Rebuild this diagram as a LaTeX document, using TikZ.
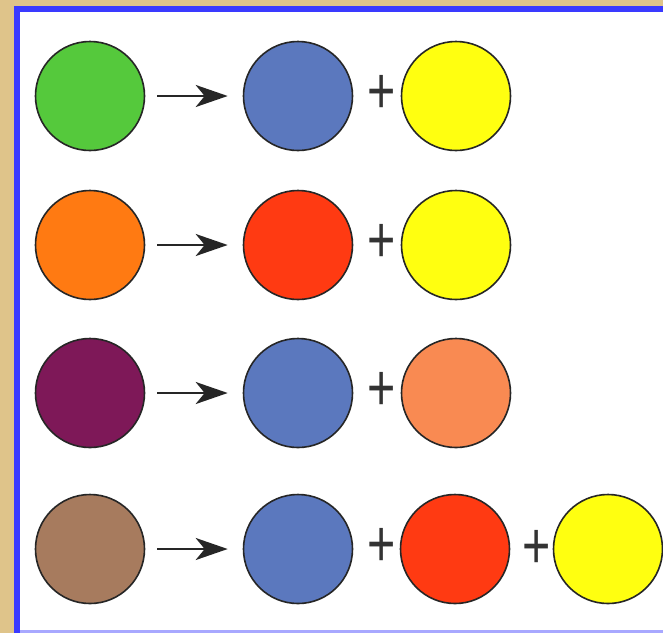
\documentclass[tikz,border=0pt]{standalone}
\usepackage{fontspec}
\setmainfont{Liberation Sans}
\usetikzlibrary{arrows.meta}
\definecolor{beige}{HTML}{DFC48A}
\definecolor{frameblue}{HTML}{3A3AFF}
\definecolor{lightblue}{HTML}{A8A8FF}
\definecolor{cgreen}{HTML}{55C93C}
\definecolor{cblue}{HTML}{5B78BE}
\definecolor{cyellow}{HTML}{FFFF10}
\definecolor{corange}{HTML}{FF7A12}
\definecolor{cred}{HTML}{FF3A12}
\definecolor{cpurple}{HTML}{7E1858}
\definecolor{csalmon}{HTML}{F98A52}
\definecolor{cbrown}{HTML}{A77B5E}
\tikzset{
  x=1pt, y=-1pt,
  blob/.style={circle, draw=black!85, line width=1.6pt, minimum size=109pt, inner sep=0pt},
  yields/.style={-{Stealth[length=32pt, width=22pt, inset=9pt]}, line width=2.6pt, black!85, shorten <=12pt, shorten >=15pt},
  plussign/.style={inner sep=0pt, text=black!80, font=\fontsize{44}{44}\selectfont}
}
\newcommand{\plustxt}{\scalebox{1.1}[1.5]{+}}
\begin{document}
\begin{tikzpicture}
\useasboundingbox (0,0) rectangle (663,633);
\fill[beige] (0,0) rectangle (663,633);
\fill[frameblue] (14,6) rectangle (663,633);
\fill[lightblue] (20,12) rectangle (663,633);
\fill[white] (20,12) rectangle (663,630);
% row 1
\node[blob, fill=cgreen] (g1) at (90,96) {};
\node[blob, fill=cblue] (b1) at (298,96) {};
\node[blob, fill=cyellow] (y1) at (456,96) {};
\node[plussign] (p1) at (382,94) {\plustxt};
\draw[yields] (g1) -- (b1);
% row 2
\node[blob, fill=corange] (o2) at (90,245) {};
\node[blob, fill=cred] (r2) at (298,245) {};
\node[blob, fill=cyellow] (y2) at (456,245) {};
\node[plussign] (p2) at (382,243) {\plustxt};
\draw[yields] (o2) -- (r2);
% row 3
\node[blob, fill=cpurple] (v3) at (90,393) {};
\node[blob, fill=cblue] (b3) at (298,393) {};
\node[blob, fill=csalmon] (s3) at (456,393) {};
\node[plussign] (p3) at (382,391) {\plustxt};
\draw[yields] (v3) -- (b3);
% row 4
\node[blob, fill=cbrown] (n4) at (90,549) {};
\node[blob, fill=cblue] (b4) at (298,549) {};
\node[blob, fill=cred] (r4) at (455,549) {};
\node[blob, fill=cyellow] (y4) at (608,549) {};
\node[plussign] (p4) at (382,547) {\plustxt};
\node[plussign] (p5) at (537,549) {\plustxt};
\draw[yields] (n4) -- (b4);
\end{tikzpicture}
\end{document}
